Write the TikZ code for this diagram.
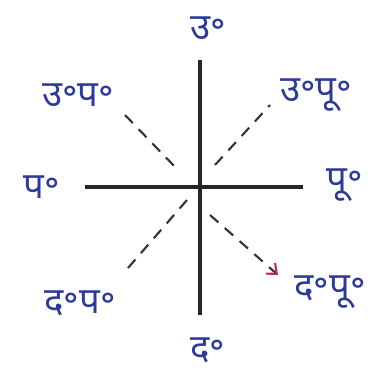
\documentclass[tikz,border=0pt]{standalone}
\usepackage{fontspec}
\newfontfamily\devfont[Script=Devanagari]{Noto Sans}
\usetikzlibrary{arrows.meta}

\begin{document}
\begin{tikzpicture}[font=\devfont\fontsize{26}{30}\selectfont,
    dirlabel/.style={text=inkblue, inner sep=1pt},
    axisline/.style={line width=2.3pt, draw=black!85},
    midline/.style={line width=1.5pt, dash pattern=on 8pt off 6pt, draw=black!80}]
  \definecolor{inkblue}{HTML}{2B3A9C}
  \definecolor{tipred}{HTML}{C8284A}

  \useasboundingbox (-5, -4.675) rectangle (4.425, 4.675);

  % main axes
  \coordinate (n) at (0, 3.175);
  \coordinate (s) at (0, -3.2);
  \coordinate (w) at (-2.875, 0);
  \coordinate (e) at (2.575, 0);
  \draw[axisline] (n) -- (s);
  \draw[axisline] (w) -- (e);

  % corner lines
  \coordinate (nw1) at (-1.875, 1.8);
  \coordinate (nw2) at (-0.55, 0.425);
  \coordinate (ne1) at (0.375, 0.55);
  \coordinate (ne2) at (1.75, 2.05);
  \coordinate (sw1) at (-1.8, -2.025);
  \coordinate (sw2) at (-0.325, -0.325);
  \coordinate (se1) at (0.25, -0.7);
  \coordinate (se2) at (1.95, -2.2);
  \draw[midline] (nw1) -- (nw2);
  \draw[midline] (ne1) -- (ne2);
  \draw[midline] (sw1) -- (sw2);
  \draw[midline, -{Straight Barb[length=6pt, width=10pt, color=tipred]}]
    (se1) -- (se2);

  % labels
  \node[dirlabel] (lbln)  at (0.2, 3.975)    {उ॰};
  \node[dirlabel] (lbls)  at (0.2, -4.075)   {द॰};
  \node[dirlabel] (lblw)  at (-3.95, 0)      {प॰};
  \node[dirlabel] (lble)  at (3.625, 0.05)   {पू॰};
  \node[dirlabel] (lblnw) at (-3.05, 2.3)    {उ॰प॰};
  \node[dirlabel] (lblne) at (2.9, 2.3)      {उ॰पू॰};
  \node[dirlabel] (lblsw) at (-3.0, -2.9)    {द॰प॰};
  \node[dirlabel] (lblse) at (3.25, -2.625)  {द॰पू॰};
\end{tikzpicture}
\end{document}
